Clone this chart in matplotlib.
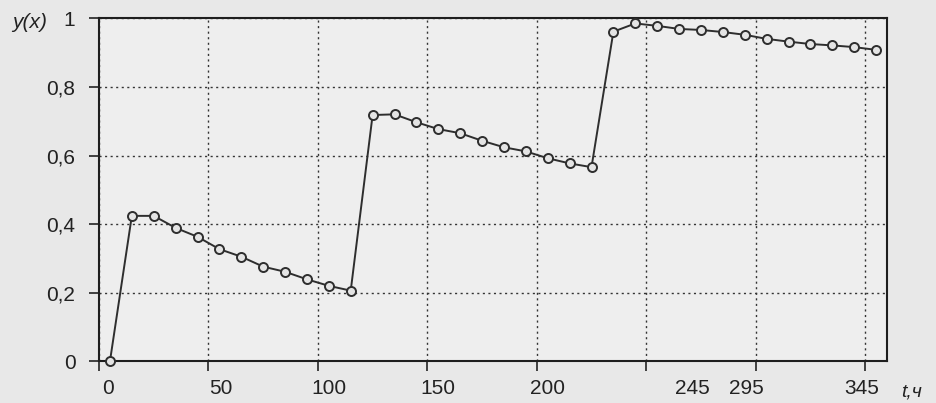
import matplotlib
matplotlib.use("Agg")
import matplotlib.pyplot as plt

# ---- data ----
t_hours = [5, 15, 25, 35, 45, 55, 65, 75, 85, 95, 105, 115,
           125, 135, 145, 155, 165, 175, 185, 195, 205, 215, 225,
           235, 245, 255, 265, 275, 285, 295, 305, 315, 325, 335, 345, 355]
y_values = [0.0, 0.424, 0.424, 0.389, 0.363, 0.327, 0.305, 0.276, 0.261, 0.239, 0.220, 0.206,
            0.718, 0.720, 0.697, 0.677, 0.665, 0.643, 0.624, 0.612, 0.592, 0.577, 0.566,
            0.961, 0.985, 0.978, 0.969, 0.966, 0.960, 0.952, 0.940, 0.932, 0.925, 0.921, 0.916, 0.908]
x_grid = [0, 50, 100, 150, 200, 250, 300, 350]
x_tick_labels = ["0", "50", "100", "150", "200", "245", "295", "345"]
y_ticks = [0, 0.2, 0.4, 0.6, 0.8, 1.0]
y_tick_labels = ["0", "0,2", "0,4", "0,6", "0,8", "1"]
x_label = "t,ч"
y_label = "y(x)"

# label positions as drawn in the original (layout only)
x_label_pos = [4.3, 55.7, 104.9, 154.7, 204.7, 270.9, 295.8, 348.3]

plt.rcParams['font.family'] = ['Liberation Sans', 'DejaVu Sans']

fig = plt.figure(figsize=(9.36, 4.03), dpi=100, facecolor='#e8e8e8')
ax = fig.add_axes([99/936, 1 - 361.3/403, (887 - 99)/936, (361.3 - 18.3)/403])
ax.set_facecolor('#eeeeee')

ax.plot(t_hours, y_values, color='#2e2e2e', lw=1.4, marker='o', ms=6.5,
        mfc='#e4e4e4', mec='#2e2e2e', mew=1.4, clip_on=False, zorder=3)

ax.set_xlim(0, 360)
ax.set_ylim(0, 1)

ax.set_xticks(x_grid)
ax.set_xticklabels([])
ax.set_xticks(x_label_pos, minor=True)
ax.set_xticklabels(x_tick_labels, minor=True, fontsize=15, color='#222222')
ax.tick_params(axis='x', which='major', direction='out', length=7, width=1.2, color='#222222')
ax.tick_params(axis='x', which='minor', length=0, pad=13)

ax.set_yticks(y_ticks)
ax.set_yticklabels(y_tick_labels, fontsize=15, color='#222222')
ax.tick_params(axis='y', direction='out', length=7, width=1.2, color='#222222', pad=10)

ax.grid(True, which='major', linestyle=(0, (1.5, 2.5)), color='#333333', lw=1.0)

for s in ax.spines.values():
    s.set_color('#1e1e1e')
    s.set_linewidth(1.5)

fig.text(12/936, 1 - 22/403, y_label, fontsize=15, style='italic', color='#222222',
         ha='left', va='center')
fig.text(901/936, 1 - 392/403, x_label, fontsize=14, style='italic', color='#222222',
         ha='left', va='center')

fig.savefig("out.png", dpi=100, facecolor=fig.get_facecolor())
